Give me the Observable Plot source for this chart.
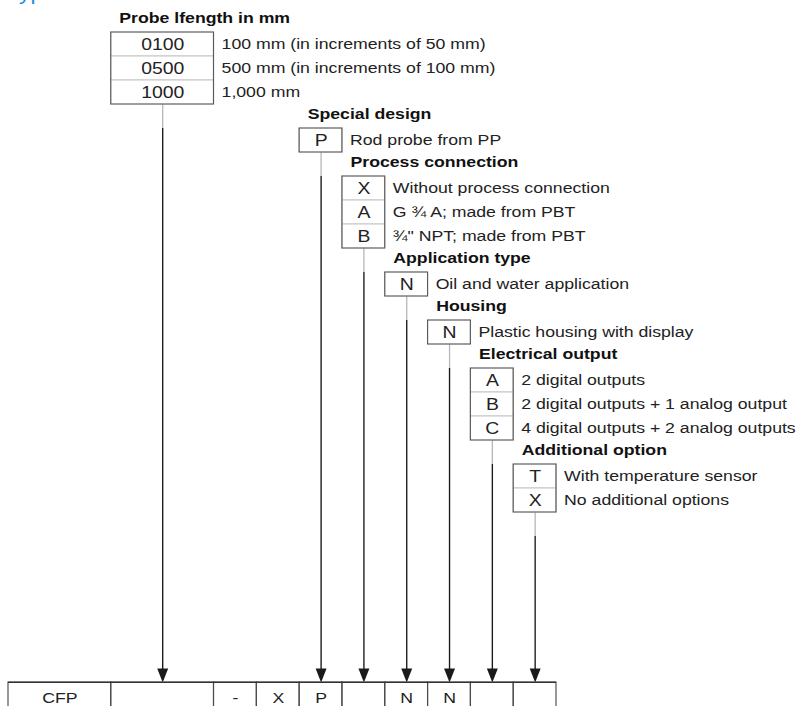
<!DOCTYPE html>
<html><head><meta charset="utf-8">
<script src="https://cdn.jsdelivr.net/npm/d3@7"></script>
<script src="https://cdn.jsdelivr.net/npm/@observablehq/plot@0.6"></script>
<style>body{margin:0;background:#fff;} #chart svg{display:block;}</style>
</head><body><div id="chart"></div>
<script>
// ---- data ----
const heading = "Type code";
const groupTitles = ["Probe lfength in mm", "Special design", "Process connection", "Application type", "Housing", "Electrical output", "Additional option"];
const groupCodes = [["0100", "0500", "1000"], ["P"], ["X", "A", "B"], ["N"], ["N"], ["A", "B", "C"], ["T", "X"]];
const groupTexts = [
  ["100 mm (in increments of 50 mm)", "500 mm (in increments of 100 mm)", "1,000 mm"],
  ["Rod probe from PP"],
  ["Without process connection", "G \u00BE A; made from PBT", "\u00BE\" NPT; made from PBT"],
  ["Oil and water application"],
  ["Plastic housing with display"],
  ["2 digital outputs", "2 digital outputs + 1 analog output", "4 digital outputs + 2 analog outputs"],
  ["With temperature sensor", "No additional options"]
];
const groupCell = [1, 4, 5, 6, 7, 8, 9];
const typeCodeCells = ["CFP", "", "-", "X", "P", "", "N", "N", "", ""];

// ---- layout ----
const S = 804 / 705;          // horizontal stretch of the whole drawing
const W = 705, H = 706;
const wideCells = 2, wideSize = 2.4;
const cellX = []; let acc = 0;
typeCodeCells.forEach((c, i) => { const w = i < wideCells ? wideSize : 1; cellX.push([acc, acc + w]); acc += w; });
const tableTop = 28.08;

const boxes = [], outer = [], titles = [], codes = [], texts = [], greyLinks = [], links = [], arrows = [];
let row = 0;
groupTitles.forEach((t, g) => {
  const [x1, x2] = cellX[groupCell[g]];
  titles.push({x: x1, y: row + 0.5, t});
  row += 1;
  const r0 = row;
  groupCodes[g].forEach((c, i) => {
    boxes.push({x1, x2, y1: row, y2: row + 1});
    codes.push({x: (x1 + x2) / 2, y: row + 0.5, t: c});
    texts.push({x: x2, y: row + 0.5, t: groupTexts[g][i]});
    row += 1;
  });
  outer.push({x1, x2, y1: r0, y2: row});
  const xm = (x1 + x2) / 2;
  greyLinks.push({x: xm, y1: row, y2: row + 1});
  links.push({x: xm, y1: row + 1, y2: tableTop - 0.3});
  arrows.push({x: xm, y: tableTop});
});
const cells = typeCodeCells.map((t, i) => ({x1: cellX[i][0], x2: cellX[i][1], y1: tableTop, y2: 30, t}));

const arrowHead = {draw(ctx) { const w = 4.8, h = 14; ctx.moveTo(0, 0); ctx.lineTo(-w, -h); ctx.lineTo(w, -h); ctx.closePath(); }};
const FONT = "Liberation Sans, Arial, sans-serif";

const plot = Plot.plot({
  width: W, height: H,
  margin: 0,
  x: {type: "linear", domain: [0, 12.8], range: [8 / S, 556 / S], axis: null},
  y: {type: "linear", domain: [0, 29], range: [8, 704], axis: null},
  style: {background: "#fff", fontFamily: FONT},
  marks: [
    Plot.text([heading], {x: -0.05, y: -0.36, text: d => d, textAnchor: "start", lineAnchor: "bottom", fill: "#1a8fd6", fontSize: 20, fontFamily: FONT}),
    Plot.ruleX(greyLinks, {x: "x", y1: "y1", y2: "y2", stroke: "#b5b5b5", strokeWidth: 1.1}),
    Plot.ruleX(links, {x: "x", y1: "y1", y2: "y2", stroke: "#1a1a1a", strokeWidth: 1.2}),
    Plot.dot(arrows, {x: "x", y: "y", symbol: arrowHead, r: 5, fill: "#1a1a1a", stroke: "none"}),
    Plot.rect(boxes, {x1: "x1", x2: "x2", y1: "y1", y2: "y2", fill: "#fff", stroke: "#c4c4c4", strokeWidth: 1}),
    Plot.rect(outer, {x1: "x1", x2: "x2", y1: "y1", y2: "y2", fill: "none", stroke: "#5a5a5a", strokeWidth: 1}),
    Plot.text(titles, {x: "x", y: "y", text: "t", textAnchor: "start", dx: 8 / S, dy: -2, fontWeight: "bold", fontSize: 15.5, fill: "#111"}),
    Plot.text(codes, {x: "x", y: "y", text: "t", fontSize: 17, fill: "#222"}),
    Plot.text(texts, {x: "x", y: "y", text: "t", textAnchor: "start", dx: 7.5 / S, fontSize: 15.5, fill: "#222"}),
    Plot.rect(cells, {x1: "x1", x2: "x2", y1: "y1", y2: "y2", fill: "none", stroke: "#4a4a4a", strokeWidth: 1}),
    Plot.ruleY([tableTop], {x1: 0, x2: 12.8, stroke: "#333", strokeWidth: 1.3}),
    Plot.text(cells, {x: d => (d.x1 + d.x2) / 2, y: tableTop + 0.64, text: "t", fontSize: 15.5, fill: "#222"})
  ]
});
plot.setAttribute("width", 804);
plot.setAttribute("height", 706);
plot.setAttribute("preserveAspectRatio", "none");
plot.style.width = "804px";
plot.style.height = "706px";
plot.style.maxWidth = "none";
document.getElementById("chart").appendChild(plot);
</script>
</body></html>
